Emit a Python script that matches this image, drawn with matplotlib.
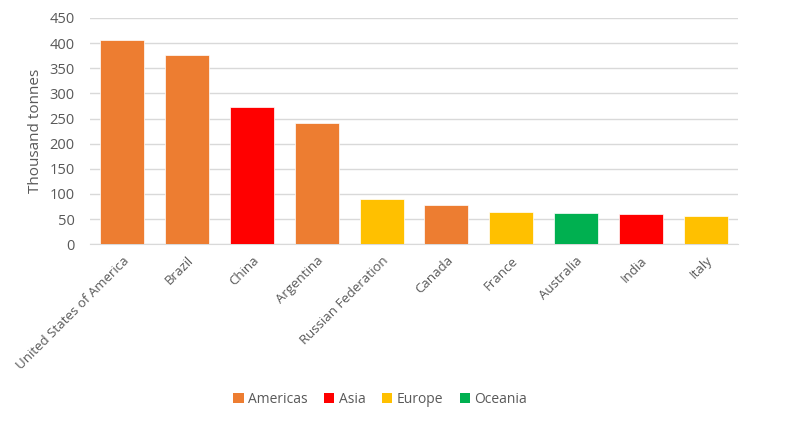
import matplotlib
matplotlib.use('Agg')
import matplotlib.pyplot as plt
from matplotlib.patches import Patch

plt.rcParams['font.family'] = ['Open Sans', 'DejaVu Sans']

countries = ['United States of America', 'Brazil', 'China', 'Argentina',
             'Russian Federation', 'Canada', 'France', 'Australia', 'India', 'Italy']
values = [407, 377, 273, 241, 90, 79, 65, 63, 61, 57]
regions = ['Americas', 'Americas', 'Asia', 'Americas', 'Europe',
           'Americas', 'Europe', 'Oceania', 'Asia', 'Europe']

region_names = ['Americas', 'Asia', 'Europe', 'Oceania']
region_colors = {'Americas': '#ED7D31', 'Asia': '#FF0000',
                 'Europe': '#FFC000', 'Oceania': '#00B050'}

text_col = '#595959'

fig = plt.figure(figsize=(7.87, 4.23), dpi=100)
ax = fig.add_axes([0.1144, 0.4225, 0.8233, 0.535])

x = range(len(countries))
ax.bar(x, values, width=0.68, color=[region_colors[r] for r in regions],
       edgecolor='white', linewidth=0.5, zorder=3)

ax.set_ylim(0, 450)
ax.set_xlim(-0.5, len(countries) - 0.5)
ax.set_yticks(range(0, 451, 50))
ax.grid(axis='y', color='#d9d9d9', linewidth=1, zorder=0)
for s in ['top', 'right', 'left']:
    ax.spines[s].set_visible(False)
ax.spines['bottom'].set_color('#d9d9d9')
ax.tick_params(axis='both', length=0, colors=text_col)
ax.tick_params(axis='y', labelsize=10.5, pad=11)
ax.tick_params(axis='x', labelsize=9.5, pad=7)
ax.set_xticks(list(x))
ax.set_xticklabels(countries, rotation=45, ha='right', rotation_mode='anchor')
ax.set_ylabel('Thousand tonnes', color=text_col, fontsize=11, labelpad=5)

handles = [Patch(facecolor=region_colors[r], label=r) for r in region_names]
fig.legend(handles=handles, loc='center', bbox_to_anchor=(0.483, 0.055), ncol=4,
           frameon=False, fontsize=10, labelcolor=text_col, handlelength=0.75,
           handleheight=0.75, handletextpad=0.3, columnspacing=1.2)

fig.savefig('out.png', dpi=100)
